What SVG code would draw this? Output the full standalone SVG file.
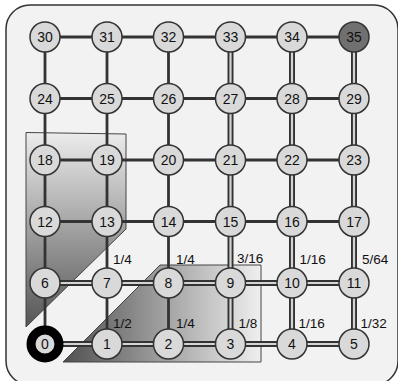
<svg xmlns="http://www.w3.org/2000/svg" width="398" height="381" viewBox="0 0 398 381">
<defs>
<linearGradient id="gv" x1="0" y1="0" x2="0" y2="1">
<stop offset="0" stop-color="#ececec"/>
<stop offset="1" stop-color="#555555"/>
</linearGradient>
<linearGradient id="gh" x1="0" y1="0" x2="1" y2="0">
<stop offset="0" stop-color="#505050"/>
<stop offset="1" stop-color="#efefef"/>
</linearGradient>
<style>
.s{stroke:#333;stroke-width:2.8}
.d{stroke:#333;stroke-width:6}
.di{stroke:#d4d4d4;stroke-width:2.2}
.n circle{fill:#d9d9d9;stroke:#333;stroke-width:1.5}
.n text,.lbl{font-family:"Liberation Sans",Arial,sans-serif;fill:#111}
.n text{font-size:14px;text-anchor:middle}
.lbl{font-size:13.5px}
</style>
</defs>
<rect x="6" y="5" width="392" height="380" rx="24" ry="24" fill="#f2f2f2" stroke="#333" stroke-width="1.5"/>
<polygon points="26,132.5 126,134 126,229 26,327" fill="url(#gv)" stroke="#444" stroke-width="1"/>
<polygon points="63,362 160,265 261,265 261,362" fill="url(#gh)" stroke="#444" stroke-width="1"/>
<g id="connectors">
<!-- single horizontal rows 2-5 -->
<line class="s" x1="45" y1="221.5" x2="107" y2="221.5"/>
<line class="s" x1="107" y1="221.5" x2="168.5" y2="221.5"/>
<line class="s" x1="168.5" y1="221.5" x2="230.5" y2="221.5"/>
<line class="s" x1="230.5" y1="221.5" x2="292" y2="221.5"/>
<line class="s" x1="292" y1="221.5" x2="354" y2="221.5"/>
<line class="s" x1="45" y1="160" x2="107" y2="160"/>
<line class="s" x1="107" y1="160" x2="168.5" y2="160"/>
<line class="s" x1="168.5" y1="160" x2="230.5" y2="160"/>
<line class="s" x1="230.5" y1="160" x2="292" y2="160"/>
<line class="s" x1="292" y1="160" x2="354" y2="160"/>
<line class="s" x1="45" y1="98.5" x2="107" y2="98.5"/>
<line class="s" x1="107" y1="98.5" x2="168.5" y2="98.5"/>
<line class="s" x1="168.5" y1="98.5" x2="230.5" y2="98.5"/>
<line class="s" x1="230.5" y1="98.5" x2="292" y2="98.5"/>
<line class="s" x1="292" y1="98.5" x2="354" y2="98.5"/>
<line class="s" x1="45" y1="37" x2="107" y2="37"/>
<line class="s" x1="107" y1="37" x2="168.5" y2="37"/>
<line class="s" x1="168.5" y1="37" x2="230.5" y2="37"/>
<line class="s" x1="230.5" y1="37" x2="292" y2="37"/>
<line class="s" x1="292" y1="37" x2="354" y2="37"/>
<!-- single vertical cols 0-2 -->
<line class="s" x1="45" y1="344" x2="45" y2="283"/>
<line class="s" x1="45" y1="283" x2="45" y2="221.5"/>
<line class="s" x1="45" y1="221.5" x2="45" y2="160"/>
<line class="s" x1="45" y1="160" x2="45" y2="98.5"/>
<line class="s" x1="45" y1="98.5" x2="45" y2="37"/>
<line class="s" x1="107" y1="344" x2="107" y2="283"/>
<line class="s" x1="107" y1="283" x2="107" y2="221.5"/>
<line class="s" x1="107" y1="221.5" x2="107" y2="160"/>
<line class="s" x1="107" y1="160" x2="107" y2="98.5"/>
<line class="s" x1="107" y1="98.5" x2="107" y2="37"/>
<line class="s" x1="168.5" y1="344" x2="168.5" y2="283"/>
<line class="s" x1="168.5" y1="283" x2="168.5" y2="221.5"/>
<line class="s" x1="168.5" y1="221.5" x2="168.5" y2="160"/>
<line class="s" x1="168.5" y1="160" x2="168.5" y2="98.5"/>
<line class="s" x1="168.5" y1="98.5" x2="168.5" y2="37"/>
<!-- double horizontal rows 0-1 -->
<g><line class="d" x1="45" y1="344" x2="107" y2="344"/><line class="di" x1="45" y1="344" x2="107" y2="344"/></g>
<g><line class="d" x1="107" y1="344" x2="168.5" y2="344"/><line class="di" x1="107" y1="344" x2="168.5" y2="344"/></g>
<g><line class="d" x1="168.5" y1="344" x2="230.5" y2="344"/><line class="di" x1="168.5" y1="344" x2="230.5" y2="344"/></g>
<g><line class="d" x1="230.5" y1="344" x2="292" y2="344"/><line class="di" x1="230.5" y1="344" x2="292" y2="344"/></g>
<g><line class="d" x1="292" y1="344" x2="354" y2="344"/><line class="di" x1="292" y1="344" x2="354" y2="344"/></g>
<g><line class="d" x1="45" y1="283" x2="107" y2="283"/><line class="di" x1="45" y1="283" x2="107" y2="283"/></g>
<g><line class="d" x1="107" y1="283" x2="168.5" y2="283"/><line class="di" x1="107" y1="283" x2="168.5" y2="283"/></g>
<g><line class="d" x1="168.5" y1="283" x2="230.5" y2="283"/><line class="di" x1="168.5" y1="283" x2="230.5" y2="283"/></g>
<g><line class="d" x1="230.5" y1="283" x2="292" y2="283"/><line class="di" x1="230.5" y1="283" x2="292" y2="283"/></g>
<g><line class="d" x1="292" y1="283" x2="354" y2="283"/><line class="di" x1="292" y1="283" x2="354" y2="283"/></g>
<!-- double vertical cols 3-5 -->
<g><line class="d" x1="230.5" y1="344" x2="230.5" y2="283"/><line class="di" x1="230.5" y1="344" x2="230.5" y2="283"/></g>
<g><line class="d" x1="230.5" y1="283" x2="230.5" y2="221.5"/><line class="di" x1="230.5" y1="283" x2="230.5" y2="221.5"/></g>
<g><line class="d" x1="230.5" y1="221.5" x2="230.5" y2="160"/><line class="di" x1="230.5" y1="221.5" x2="230.5" y2="160"/></g>
<g><line class="d" x1="230.5" y1="160" x2="230.5" y2="98.5"/><line class="di" x1="230.5" y1="160" x2="230.5" y2="98.5"/></g>
<g><line class="d" x1="230.5" y1="98.5" x2="230.5" y2="37"/><line class="di" x1="230.5" y1="98.5" x2="230.5" y2="37"/></g>
<g><line class="d" x1="292" y1="344" x2="292" y2="283"/><line class="di" x1="292" y1="344" x2="292" y2="283"/></g>
<g><line class="d" x1="292" y1="283" x2="292" y2="221.5"/><line class="di" x1="292" y1="283" x2="292" y2="221.5"/></g>
<g><line class="d" x1="292" y1="221.5" x2="292" y2="160"/><line class="di" x1="292" y1="221.5" x2="292" y2="160"/></g>
<g><line class="d" x1="292" y1="160" x2="292" y2="98.5"/><line class="di" x1="292" y1="160" x2="292" y2="98.5"/></g>
<g><line class="d" x1="292" y1="98.5" x2="292" y2="37"/><line class="di" x1="292" y1="98.5" x2="292" y2="37"/></g>
<g><line class="d" x1="354" y1="344" x2="354" y2="283"/><line class="di" x1="354" y1="344" x2="354" y2="283"/></g>
<g><line class="d" x1="354" y1="283" x2="354" y2="221.5"/><line class="di" x1="354" y1="283" x2="354" y2="221.5"/></g>
<g><line class="d" x1="354" y1="221.5" x2="354" y2="160"/><line class="di" x1="354" y1="221.5" x2="354" y2="160"/></g>
<g><line class="d" x1="354" y1="160" x2="354" y2="98.5"/><line class="di" x1="354" y1="160" x2="354" y2="98.5"/></g>
<g><line class="d" x1="354" y1="98.5" x2="354" y2="37"/><line class="di" x1="354" y1="98.5" x2="354" y2="37"/></g>
</g>
<g id="n0" class="n"><circle cx="45" cy="344" r="14" style="stroke:#000;stroke-width:9"/><text x="45" y="349">0</text></g>
<g id="n1" class="n"><circle cx="107" cy="344" r="15"/><text x="107" y="349">1</text></g>
<g id="n2" class="n"><circle cx="168.5" cy="344" r="15"/><text x="168.5" y="349">2</text></g>
<g id="n3" class="n"><circle cx="230.5" cy="344" r="15"/><text x="230.5" y="349">3</text></g>
<g id="n4" class="n"><circle cx="292" cy="344" r="15"/><text x="292" y="349">4</text></g>
<g id="n5" class="n"><circle cx="354" cy="344" r="15"/><text x="354" y="349">5</text></g>
<g id="n6" class="n"><circle cx="45" cy="283" r="15"/><text x="45" y="288">6</text></g>
<g id="n7" class="n"><circle cx="107" cy="283" r="15"/><text x="107" y="288">7</text></g>
<g id="n8" class="n"><circle cx="168.5" cy="283" r="15"/><text x="168.5" y="288">8</text></g>
<g id="n9" class="n"><circle cx="230.5" cy="283" r="15"/><text x="230.5" y="288">9</text></g>
<g id="n10" class="n"><circle cx="292" cy="283" r="15"/><text x="292" y="288">10</text></g>
<g id="n11" class="n"><circle cx="354" cy="283" r="15"/><text x="354" y="288">11</text></g>
<g id="n12" class="n"><circle cx="45" cy="221.5" r="15"/><text x="45" y="226.5">12</text></g>
<g id="n13" class="n"><circle cx="107" cy="221.5" r="15"/><text x="107" y="226.5">13</text></g>
<g id="n14" class="n"><circle cx="168.5" cy="221.5" r="15"/><text x="168.5" y="226.5">14</text></g>
<g id="n15" class="n"><circle cx="230.5" cy="221.5" r="15"/><text x="230.5" y="226.5">15</text></g>
<g id="n16" class="n"><circle cx="292" cy="221.5" r="15"/><text x="292" y="226.5">16</text></g>
<g id="n17" class="n"><circle cx="354" cy="221.5" r="15"/><text x="354" y="226.5">17</text></g>
<g id="n18" class="n"><circle cx="45" cy="160" r="15"/><text x="45" y="165">18</text></g>
<g id="n19" class="n"><circle cx="107" cy="160" r="15"/><text x="107" y="165">19</text></g>
<g id="n20" class="n"><circle cx="168.5" cy="160" r="15"/><text x="168.5" y="165">20</text></g>
<g id="n21" class="n"><circle cx="230.5" cy="160" r="15"/><text x="230.5" y="165">21</text></g>
<g id="n22" class="n"><circle cx="292" cy="160" r="15"/><text x="292" y="165">22</text></g>
<g id="n23" class="n"><circle cx="354" cy="160" r="15"/><text x="354" y="165">23</text></g>
<g id="n24" class="n"><circle cx="45" cy="98.5" r="15"/><text x="45" y="103.5">24</text></g>
<g id="n25" class="n"><circle cx="107" cy="98.5" r="15"/><text x="107" y="103.5">25</text></g>
<g id="n26" class="n"><circle cx="168.5" cy="98.5" r="15"/><text x="168.5" y="103.5">26</text></g>
<g id="n27" class="n"><circle cx="230.5" cy="98.5" r="15"/><text x="230.5" y="103.5">27</text></g>
<g id="n28" class="n"><circle cx="292" cy="98.5" r="15"/><text x="292" y="103.5">28</text></g>
<g id="n29" class="n"><circle cx="354" cy="98.5" r="15"/><text x="354" y="103.5">29</text></g>
<g id="n30" class="n"><circle cx="45" cy="37" r="15"/><text x="45" y="42">30</text></g>
<g id="n31" class="n"><circle cx="107" cy="37" r="15"/><text x="107" y="42">31</text></g>
<g id="n32" class="n"><circle cx="168.5" cy="37" r="15"/><text x="168.5" y="42">32</text></g>
<g id="n33" class="n"><circle cx="230.5" cy="37" r="15"/><text x="230.5" y="42">33</text></g>
<g id="n34" class="n"><circle cx="292" cy="37" r="15"/><text x="292" y="42">34</text></g>
<g id="n35" class="n"><circle cx="354" cy="37" r="15" style="fill:#707070"/><text x="354" y="42">35</text></g>
<g id="labels">
<text class="lbl" x="113" y="264">1/4</text>
<text class="lbl" x="176" y="264">1/4</text>
<text class="lbl" x="237" y="263">3/16</text>
<text class="lbl" x="299.5" y="263.5">1/16</text>
<text class="lbl" x="362" y="263.5">5/64</text>
<text class="lbl" x="113" y="328">1/2</text>
<text class="lbl" x="176" y="328">1/4</text>
<text class="lbl" x="238.5" y="328">1/8</text>
<text class="lbl" x="298.5" y="328">1/16</text>
<text class="lbl" x="360.5" y="328">1/32</text>
</g>
</svg>
